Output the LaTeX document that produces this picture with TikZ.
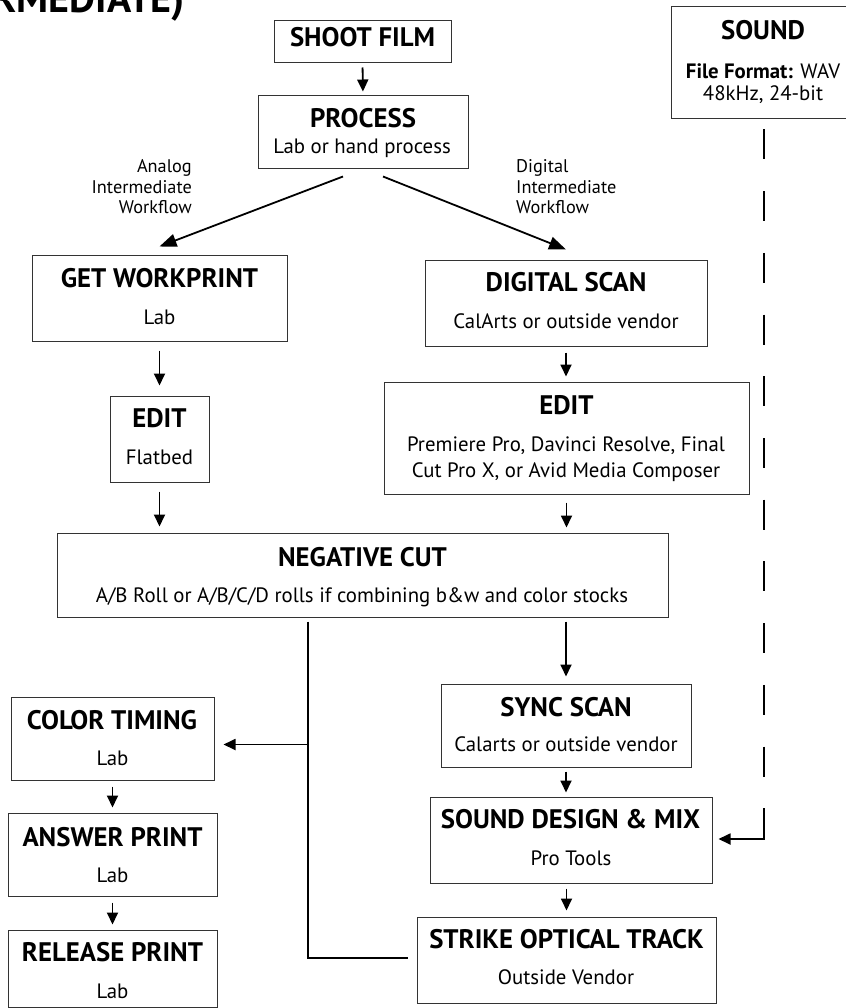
\documentclass[tikz,border=0pt]{standalone}
\usepackage{fontspec}
\setmainfont{PT Sans}
\usetikzlibrary{arrows.meta,calc}

\begin{document}
\begin{tikzpicture}[x=1pt,y=-1pt,
  box/.style={draw=black!80, line width=1pt, inner sep=0pt},
  flow/.style={line width=1.8pt, -{Triangle[length=12pt,width=11pt]}},
  bigflow/.style={line width=1.8pt, -{Triangle[length=17pt,width=13pt]}},
  wire/.style={line width=1.8pt},
  ttl/.style={font=\fontsize{26.8}{30}\selectfont\bfseries, anchor=base, inner sep=0pt},
  sub/.style={font=\fontsize{20.8}{25}\selectfont, anchor=base, inner sep=0pt},
  lbl/.style={font=\fontsize{18.3}{22}\selectfont, inner sep=0pt},
  head/.style={font=\fontsize{40}{44}\selectfont\bfseries, anchor=base east, inner sep=0pt}]

\path[use as bounding box] (0,0) rectangle (845,1008);

% heading running off the top edge
\node[head] (heading) at (185,13) {RMEDIATE)};

% boxes
\node[box, minimum width=177pt, minimum height=42pt] (shoot)   at (362.5,42)   {};
\node[box, minimum width=210pt, minimum height=73pt] (process) at (363,132.5)  {};
\node[box, minimum width=255pt, minimum height=86pt] (gw)      at (159.5,298)  {};
\node[box, minimum width=99pt,  minimum height=86pt] (editL)   at (159.5,439)  {};
\node[box, minimum width=282pt, minimum height=86pt] (ds)      at (566,303)    {};
\node[box, minimum width=365pt, minimum height=112pt] (editR)  at (566.5,438)  {};
\node[box, minimum width=611pt, minimum height=84pt] (neg)     at (362.5,575)  {};
\node[box, minimum width=186pt, minimum height=112pt] (sound)  at (764,63)     {};
\node[box, minimum width=250pt, minimum height=83pt] (sync)    at (566,725.5)  {};
\node[box, minimum width=282pt, minimum height=86pt] (sdm)     at (571,840)    {};
\node[box, minimum width=299pt, minimum height=86pt] (strike)  at (566.5,960)  {};
\node[box, minimum width=203pt, minimum height=83pt] (color)   at (112.5,738.5){};
\node[box, minimum width=209pt, minimum height=83pt] (answer)  at (112.5,854.5){};
\node[box, minimum width=209pt, minimum height=77pt] (release) at (112.5,968.5){};

% box texts
\node[ttl] (shootT)   at (362.5,47) {SHOOT FILM};
\node[ttl] (processT) at (363,128)  {PROCESS};
\node[sub] (processS) at (362,154)  {Lab or hand process};
\node[ttl] (gwT)      at (159.5,287) {GET WORKPRINT};
\node[sub] (gwS)      at (159.5,324) {Lab};
\node[ttl] (editLT)   at (159.5,427) {EDIT};
\node[sub] (editLS)   at (159.5,464) {Flatbed};
\node[ttl] (dsT)      at (566,291)  {DIGITAL SCAN};
\node[sub] (dsS)      at (566,328)  {CalArts or outside vendor};
\node[ttl] (editRT)   at (566.5,414) {EDIT};
\node[sub] (editRS1)  at (566,451)  {Premiere Pro, Davinci Resolve, Final};
\node[sub] (editRS2)  at (566,477)  {Cut Pro X, or Avid Media Composer};
\node[ttl] (negT)     at (362.5,566) {NEGATIVE CUT};
\node[sub] (negS)     at (362,602)  {A/B Roll or A/B/C/D rolls if combining b\&w and color stocks};
\node[ttl] (soundT)   at (763,40)   {SOUND};
\node[sub] (soundS1)  at (763,79)   {\textbf{File Format:} WAV};
\node[sub] (soundS2)  at (763,101)  {48kHz, 24-bit};
\node[ttl] (syncT)    at (566,716)  {SYNC SCAN};
\node[sub] (syncS)    at (566,751)  {Calarts or outside vendor};
\node[ttl] (sdmT)     at (570.5,828) {SOUND DESIGN \& MIX};
\node[sub] (sdmS)     at (571,865)  {Pro Tools};
\node[ttl] (strikeT)  at (566.5,948) {STRIKE OPTICAL TRACK};
\node[sub] (strikeS)  at (566,984)  {Outside Vendor};
\node[ttl] (colorT)   at (112,729)  {COLOR TIMING};
\node[sub] (colorS)   at (112.5,765) {Lab};
\node[ttl] (answerT)  at (112.5,846) {ANSWER PRINT};
\node[sub] (answerS)  at (112.5,882) {Lab};
\node[ttl] (releaseT) at (112.5,961) {RELEASE PRINT};
\node[sub] (releaseS) at (112.5,998) {Lab};

% workflow labels
\node[lbl, anchor=base east] (anaA) at (192,173) {Analog};
\node[lbl, anchor=base east] (anaB) at (192,194) {Intermediate};
\node[lbl, anchor=base east] (anaC) at (192,214) {Workflow};
\node[lbl, anchor=base west] (digA) at (516,173) {Digital};
\node[lbl, anchor=base west] (digB) at (516,194) {Intermediate};
\node[lbl, anchor=base west] (digC) at (516,214) {Workflow};

% connectors
\draw[flow, shorten <=4pt, shorten >=4pt] (shoot.south) -- (process.north);
\draw[bigflow] ($(process.south)+(-20,7)$) -- ($(gw.north)+(0,-8)$);
\draw[bigflow] ($(process.south)+(20,7)$) -- ($(ds.north)+(0,-10)$);
\draw[flow, shorten <=9pt, shorten >=10pt] (gw.south) -- (editL.north);
\draw[flow, shorten <=9pt, shorten >=6pt] (editL.south) -- (editL.south |- neg.north);
\draw[flow, shorten <=6pt, shorten >=5pt] (ds.south) -- (ds.south |- editR.north);
\draw[flow, shorten <=8pt, shorten >=5pt] (editR.south) -- (editR.south |- neg.north);
\draw[flow, shorten <=4pt, shorten >=7pt] (sync.north |- neg.south) -- (sync.north);
\draw[flow, shorten <=4pt, shorten >=4pt] (sync.south) -- (sync.south |- sdm.north);
\draw[flow, shorten <=5pt, shorten >=6pt] (strike.north |- sdm.south) -- (strike.north);
\draw[flow, shorten <=6pt, shorten >=5pt] (color.south) -- (answer.north);
\draw[flow, shorten <=6pt, shorten >=5pt] (answer.south) -- (release.north);

% print branch from the negative cut
\coordinate (trunkTop) at ($(neg.south)+(-54.5,4)$);
\coordinate (trunkJoin) at ($(trunkTop)+(0,123)$);
\draw[wire] (trunkTop) |- ($(strike.west)+(-9,-2)$);
\draw[flow, shorten >=9pt] (trunkJoin) -- (trunkJoin -| color.east);

% sound track feed
\coordinate (soundBend) at (sound.south |- sdm.east);
\draw[wire, dash pattern=on 30pt off 31.7pt] ($(sound.south)+(0,10)$) -- ($(soundBend)+(0,-32)$);
\draw[flow, shorten >=6pt] ($(soundBend)+(0,-32)$) -- ($(soundBend)+(0,-1)$) -- ($(sdm.east)+(0,-1)$);

\end{tikzpicture}
\end{document}
